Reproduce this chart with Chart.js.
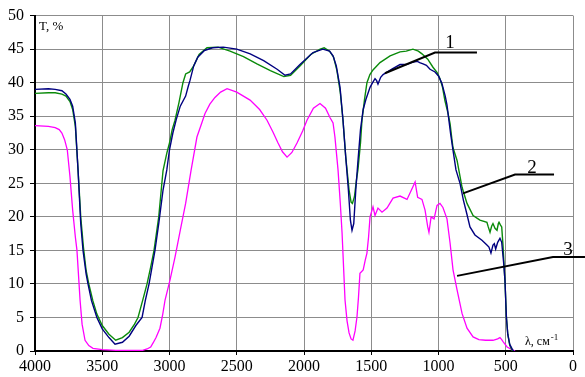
<!DOCTYPE html>
<html>
<head>
<meta charset="utf-8">
<script src="https://cdn.jsdelivr.net/npm/chart.js@4/dist/chart.umd.min.js"></script>
<style>
  html, body { margin: 0; padding: 0; background: #fff; }
  #wrap { width: 585px; height: 377px; }
  #fontwarm { font-family: "Liberation Serif"; position: absolute; left: -999px; top: 0; }
</style>
</head>
<body>
<span id="fontwarm">T, % 0123456789 λ, см</span>
<div id="wrap"><canvas id="myChart" width="585" height="377"></canvas></div>
<script>
// wavenumber, cm-1 / transmittance, %
const blueWn = [4000,3900,3850,3800,3770,3740,3720,3700,3680,3660,3643,3620,3606,3580,3540,3500,3450,3405,3350,3300,3250,3204,3180,3152,3130,3108,3080,3048,3020,3000,2975,2950,2920,2880,2860,2848,2820,2790,2740,2680,2600,2500,2400,2300,2200,2141,2100,2030,1933,1860,1810,1784,1760,1732,1710,1690,1670,1655,1643,1630,1615,1600,1580,1560,1540,1509,1490,1472,1460,1450,1430,1412,1350,1286,1240,1200,1160,1140,1115,1090,1063,1026,1000,975,950,937,910,892,870,840,815,790,766,729,677,640,625,610,595,585,575,560,543,530,515,506,495,485,470,450,440];
const blueT  = [39.0,39.1,39.0,38.8,38.3,37.5,36.5,34,27,19,15,11.5,10,7.5,5,3.3,2,1.0,1.3,2.2,3.8,5,7.5,10,12.5,15,19,24,27,30,32.5,34.5,36.5,38,39.5,40.3,42.5,43.8,44.8,45.2,45.3,45.0,44.3,43.3,42.0,41.1,41.3,42.7,44.5,45.0,44.7,44.0,42.5,39.3,34.4,29,24,19.5,18.0,19,24,28,33,36,37.5,39.3,40.0,40.6,40.3,39.8,40.8,41.2,42.0,42.7,42.7,43.0,43.2,43.0,42.8,42.6,42.0,41.6,41.0,39.9,38,36.7,32.4,29.9,27,25.0,22.5,20.5,18.5,17.3,16.5,15.8,15.5,14.6,15.8,16,15.2,16.2,16.8,16.2,13,10.6,5,2.5,1.0,0.2,0.0];

const greenWn = [4000,3900,3850,3800,3770,3740,3720,3700,3680,3660,3640,3620,3600,3570,3540,3500,3450,3400,3350,3300,3260,3234,3200,3167,3140,3115,3080,3048,3020,3000,2980,2959,2930,2900,2880,2850,2820,2780,2721,2639,2550,2450,2350,2250,2150,2100,2030,1950,1880,1850,1810,1780,1755,1730,1710,1690,1680,1665,1650,1640,1625,1610,1599,1580,1569,1550,1532,1510,1487,1435,1360,1286,1240,1190,1150,1123,1080,1041,1010,989,970,952,930,914,900,892,862,825,788,743,692,640,630,617,605,595,580,565,555,550,540,530,520,505,495,485,470,450];
const greenT  = [38.4,38.5,38.5,38.3,38.0,37.2,36,33.5,27,20,15.5,12,10,7.5,5.5,3.8,2.5,1.6,2.0,2.8,4.0,5,7.5,10,12.5,15,20,26.9,29.5,31,33,34.4,37,40,41.3,41.6,42.5,44.2,45.2,45.3,44.7,43.9,42.8,41.8,40.9,41.1,42.5,44.2,45.0,45.2,44.7,43.8,41.8,38.5,34.4,29,27,24,22.2,22,23,25.5,27,31,34.4,37.5,40,41.2,41.9,43,44,44.6,44.7,45.0,44.7,44.3,43.5,42.3,41.5,40.6,39.3,37.3,35.5,33.9,31.5,30.3,28.4,24.4,22.0,20.2,19.5,19.2,18.5,17.7,18.6,19.0,18.3,18.0,19.0,19.2,18.8,18.5,15.6,10,5,2.5,0.8,0.0];

const pinkWn = [4000,3900,3850,3820,3800,3780,3760,3740,3720,3700,3688,3665,3650,3628,3600,3569,3500,3400,3300,3200,3167,3140,3122,3100,3071,3050,3033,2996,2959,2920,2880,2840,2796,2760,2736,2700,2662,2620,2572,2500,2401,2330,2275,2230,2193,2160,2126,2090,2052,2010,1978,1930,1881,1840,1807,1784,1770,1747,1730,1717,1695,1680,1665,1650,1636,1620,1606,1595,1584,1560,1545,1532,1520,1509,1487,1472,1450,1420,1383,1338,1286,1234,1197,1174,1155,1123,1100,1080,1071,1055,1033,1011,989,967,937,914,892,862,825,788,743,700,650,595,560,543,530,520,490,454,430];
const pinkT  = [33.6,33.5,33.3,33.0,32.5,31.5,30,26,21,17,15,7.6,4,1.6,0.8,0.4,0.2,0.1,0.1,0.1,0.3,0.6,1.2,2.0,3.4,5.5,7.6,10.6,14,18,22,26.9,31.9,34,35.4,36.8,37.8,38.6,39.1,38.6,37.4,36,34.4,32.6,31.0,29.7,28.9,29.6,31,32.8,34.4,36.2,36.9,36.2,34.8,34.0,31.9,27,22,17.6,7.6,4.5,2.7,1.8,1.6,3,5.1,8,11.6,12.1,13.5,14.6,17,20,21.5,20.2,21.3,20.7,21.3,22.8,23.1,22.6,24.2,25.2,22.9,22.6,21.0,18.5,17.7,20.0,19.7,21.7,22,21.4,19.7,16.1,12.1,9.1,5.6,3.4,2.1,1.7,1.6,1.6,1.8,2.0,1.7,1.4,0.6,0.2,0.0];

// curve labels and their leader lines, in data units
const curveLabels = ['1', '2', '3'];
const labelAt = [[914, 45.1], [305, 26.5], [37, 14.3]];
const leaders = [
  [[1398, 41.4], [1026, 44.5], [714, 44.5]],
  [[818, 23.5], [431, 26.3], [141, 26.3]],
  [[862, 11.2], [149, 14.0], [-89, 14.0]]
];

function pts(wn, t) {
  return wn.map((w, i) => ({x: w, y: t[i]}));
}

const serif = '"Liberation Serif", "Times New Roman", serif';

const notes = {
  id: 'notes',
  afterDraw(chart) {
    const ctx = chart.ctx;
    const xs = chart.scales.x, ys = chart.scales.y;
    ctx.save();
    ctx.strokeStyle = '#000';
    ctx.lineWidth = 2;
    leaders.forEach(l => {
      ctx.beginPath();
      l.forEach((p, i) => {
        const px = xs.getPixelForValue(p[0]), py = ys.getPixelForValue(p[1]);
        if (i === 0) ctx.moveTo(px, py); else ctx.lineTo(px, py);
      });
      ctx.stroke();
    });
    ctx.fillStyle = '#000';
    ctx.textAlign = 'center';
    ctx.textBaseline = 'alphabetic';
    ctx.font = '19px ' + serif;
    curveLabels.forEach((s, i) => {
      ctx.fillText(s, xs.getPixelForValue(labelAt[i][0]), ys.getPixelForValue(labelAt[i][1]));
    });
    // axis titles
    const a = chart.chartArea;
    ctx.textAlign = 'left';
    ctx.font = '13px ' + serif;
    ctx.fillText('T, %', a.left + 4, a.top + 14);
    ctx.font = '12px ' + serif;
    const unitX = a.right - 48;
    ctx.fillText('λ, см', unitX, a.bottom - 6);
    const w = ctx.measureText('λ, см').width;
    ctx.font = '9px ' + serif;
    ctx.fillText('-1', unitX + w + 1, a.bottom - 11);
    ctx.restore();
  }
};

function draw() {
  new Chart(document.getElementById('myChart').getContext('2d'), {
    type: 'scatter',
    data: {
      datasets: [
        { data: pts(blueWn, blueT), borderColor: '#000080', borderWidth: 1.4, showLine: true, pointRadius: 0, tension: 0 },
        { data: pts(greenWn, greenT), borderColor: '#0a8a0a', borderWidth: 1.4, showLine: true, pointRadius: 0, tension: 0 },
        { data: pts(pinkWn, pinkT), borderColor: '#ff00ff', borderWidth: 1.3, showLine: true, pointRadius: 0, tension: 0 }
      ]
    },
    options: {
      responsive: false,
      animation: false,
      layout: { padding: { left: 0, right: 12, top: 15, bottom: 0 } },
      plugins: { legend: { display: false }, tooltip: { enabled: false } },
      scales: {
        x: {
          type: 'linear', reverse: true, min: 0, max: 4000,
          afterFit: s => { s.height = 26; },
          ticks: { stepSize: 500, color: '#000', font: { family: serif, size: 16 }, padding: 2, maxRotation: 0,
                   callback: v => String(v) },
          grid: { color: '#8c8c8c', lineWidth: 1, tickLength: 4, tickColor: '#000' },
          border: { color: '#000', width: 2 }
        },
        y: {
          min: 0, max: 50,
          afterFit: s => { s.width = 35; },
          ticks: { stepSize: 5, color: '#000', font: { family: serif, size: 16 }, padding: 6 },
          grid: { color: '#8c8c8c', lineWidth: 1, tickLength: 5, tickColor: '#000' },
          border: { color: '#000', width: 2 }
        }
      }
    },
    plugins: [notes]
  });
}

if (document.fonts && document.fonts.load) {
  document.fonts.load('16px "Liberation Serif"').then(draw, draw);
} else {
  draw();
}
</script>
</body>
</html>
